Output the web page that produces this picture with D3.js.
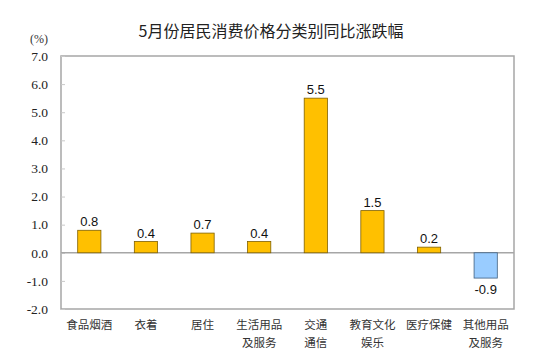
<!DOCTYPE html>
<meta charset="utf-8">
<script src="https://d3js.org/d3.v7.min.js"></script>
<style>
  body { margin: 0; background: #fff; }
</style>
<body>
<div id="chart"></div>
<script>
// data
var categories = [['食品烟酒'], ['衣着'], ['居住'], ['生活用品', '及服务'], ['交通', '通信'], ['教育文化', '娱乐'], ['医疗保健'], ['其他用品', '及服务']];
var values = [0.8, 0.4, 0.7, 0.4, 5.5, 1.5, 0.2, -0.9];
var yTicks = [-2, -1, 0, 1, 2, 3, 4, 5, 6, 7];

var W = 543, H = 361;
var margin = {top: 56, right: 29, bottom: 52, left: 61};
var width = W - margin.left - margin.right,
    height = H - margin.top - margin.bottom;

var fmt = function(d) { return d3.format('.1f')(d).replace('−', '-'); };

var svg = d3.select('#chart').append('svg')
    .attr('width', W).attr('height', H);

svg.append('text')
    .text('5月份居民消费价格分类别同比涨跌幅')
    .attr('x', 271).attr('y', 37)
    .attr('text-anchor', 'middle')
    .attr('font-family', '"Noto Sans CJK SC", sans-serif')
    .attr('font-size', 16)
    .attr('fill', '#222');

svg.append('text')
    .text('(%)')
    .attr('x', 39).attr('y', 43)
    .attr('text-anchor', 'middle')
    .attr('font-family', '"Liberation Serif", serif')
    .attr('font-size', 12)
    .attr('fill', '#333');

var g = svg.append('g')
    .attr('transform', 'translate(' + margin.left + ',' + margin.top + ')');

var x = d3.scaleBand()
    .domain(d3.range(categories.length))
    .range([0, width]);

var y = d3.scaleLinear()
    .domain([-2, 7])
    .range([height, 0]);

// frame
g.append('rect')
    .attr('x', 0).attr('y', 0)
    .attr('width', width).attr('height', height)
    .attr('fill', 'none')
    .attr('stroke', '#a6a6a6')
    .attr('stroke-width', 1.5);

// y axis (inner ticks)
var yAxis = g.append('g')
    .call(d3.axisRight(y).tickValues(yTicks).tickSize(4).tickFormat(''));
yAxis.select('.domain').remove();
yAxis.selectAll('line').attr('stroke', '#c8c8c8');

g.selectAll('.ylab')
    .data(yTicks)
    .enter().append('text')
    .attr('class', 'ylab')
    .attr('x', -13)
    .attr('y', function(d) { return y(d); })
    .attr('dy', '0.35em')
    .attr('text-anchor', 'end')
    .attr('font-family', '"Liberation Serif", serif')
    .attr('font-size', 13.5)
    .attr('fill', '#222')
    .text(fmt);

// zero line
g.append('line')
    .attr('x1', 0).attr('x2', width)
    .attr('y1', y(0)).attr('y2', y(0))
    .attr('stroke', '#a6a6a6')
    .attr('stroke-width', 1.5);

var bw = x.bandwidth() * 0.41;

g.selectAll('.bar')
    .data(values)
    .enter().append('rect')
    .attr('class', 'bar')
    .attr('x', function(d, i) { return x(i) + (x.bandwidth() - bw) / 2; })
    .attr('y', function(d) { return y(Math.max(0, d)); })
    .attr('width', bw)
    .attr('height', function(d) { return Math.abs(y(d) - y(0)); })
    .attr('fill', function(d) { return d >= 0 ? '#ffc000' : '#99ccff'; })
    .attr('stroke', function(d) { return d >= 0 ? '#7f6000' : '#3f5f7f'; })
    .attr('stroke-width', 0.8);

g.selectAll('.val')
    .data(values)
    .enter().append('text')
    .attr('class', 'val')
    .attr('x', function(d, i) { return x(i) + x.bandwidth() / 2; })
    .attr('y', function(d) { return d >= 0 ? y(d) - 4 : y(d) + 16; })
    .attr('text-anchor', 'middle')
    .attr('font-family', '"Liberation Sans", Arial, sans-serif')
    .attr('font-size', 13)
    .attr('fill', '#111')
    .text(fmt);

var cat = g.selectAll('.cat')
    .data(categories)
    .enter().append('text')
    .attr('class', 'cat')
    .attr('x', function(d, i) { return x(i) + x.bandwidth() / 2; })
    .attr('y', height + 20)
    .attr('text-anchor', 'middle')
    .attr('font-family', '"Noto Sans CJK SC", sans-serif')
    .attr('font-size', 11.5)
    .attr('fill', '#333');

cat.selectAll('tspan')
    .data(function(d) { return d; })
    .enter().append('tspan')
    .attr('x', function() { return d3.select(this.parentNode).attr('x'); })
    .attr('dy', function(d, i) { return i === 0 ? 0 : 18; })
    .text(function(d) { return d; });
</script>
</body>
